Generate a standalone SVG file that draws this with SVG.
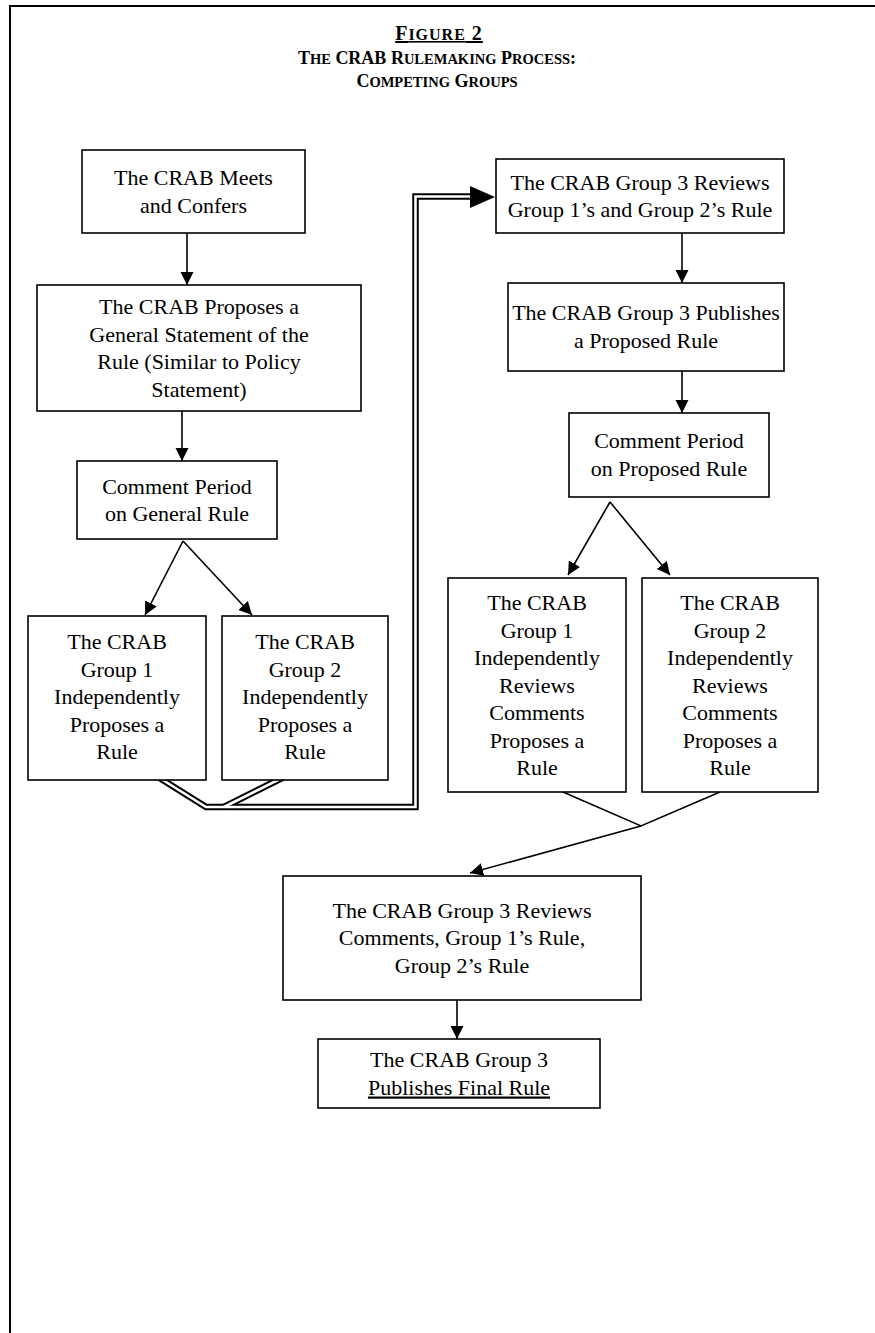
<svg xmlns="http://www.w3.org/2000/svg" width="875" height="1333" viewBox="0 0 875 1333">
<style>
  .box { fill: #fff; stroke: #000; stroke-width: 1.6; }
  .lbl { font-family: "Liberation Serif", "Times New Roman", serif; font-size: 22px; fill: #000; text-anchor: middle; }
  .ttl { font-family: "Liberation Serif", "Times New Roman", serif; font-weight: bold; fill: #000; text-anchor: middle; }
  .big { font-size: 18px; }
  .sm { font-size: 14.5px; }
  .ln { fill: none; stroke: #000; stroke-width: 1.6; }
  .dbl-b { fill: none; stroke: #000; stroke-width: 6.5; stroke-linejoin: miter; }
  .dbl-w { fill: none; stroke: #fff; stroke-width: 2.6; stroke-linejoin: miter; }
</style>
<defs>
  <marker id="ah" viewBox="0 0 13 14" refX="13" refY="7" markerWidth="13" markerHeight="14" markerUnits="userSpaceOnUse" orient="auto">
    <path d="M0,0.5 L13,7 L0,13.5 z" fill="#000"/>
  </marker>
</defs>
<rect x="0" y="0" width="875" height="1333" fill="#fff"/>
<path d="M10,1333 V6 H875" fill="none" stroke="#000" stroke-width="2"/>

<g id="title">
  <text class="ttl" x="439" y="40" text-decoration="underline" letter-spacing="1"><tspan style="font-size:20px">F</tspan><tspan style="font-size:16px">IGURE</tspan><tspan style="font-size:20px"> 2</tspan></text>
  <text class="ttl" x="437" y="64"><tspan class="big">T</tspan><tspan class="sm">HE</tspan><tspan class="big"> CRAB R</tspan><tspan class="sm">ULEMAKING</tspan><tspan class="big"> P</tspan><tspan class="sm">ROCESS</tspan><tspan class="big">:</tspan></text>
  <text class="ttl" x="437" y="87"><tspan class="big">C</tspan><tspan class="sm">OMPETING</tspan><tspan class="big"> G</tspan><tspan class="sm">ROUPS</tspan></text>
</g>

<g id="connectors">
  <line class="ln" x1="187" y1="233" x2="187" y2="285" marker-end="url(#ah)"/>
  <line class="ln" x1="182" y1="411" x2="182" y2="461" marker-end="url(#ah)"/>
  <line class="ln" x1="183" y1="541" x2="145" y2="615" marker-end="url(#ah)"/>
  <line class="ln" x1="183" y1="541" x2="252" y2="615" marker-end="url(#ah)"/>
  <path class="dbl-b" d="M142,767 L206,807 H415.5 V196.5 H472"/>
  <path class="dbl-b" d="M302,768 L224,807"/>
  <path class="dbl-w" d="M142,767 L206,807 H415.5 V196.5 H472"/>
  <path class="dbl-w" d="M302,768 L224,807"/>
  <polygon points="470,186 495,197 470,208" fill="#000"/>
  <line class="ln" x1="682" y1="233" x2="682" y2="283" marker-end="url(#ah)"/>
  <line class="ln" x1="682" y1="371" x2="682" y2="413" marker-end="url(#ah)"/>
  <line class="ln" x1="610" y1="502" x2="568" y2="575" marker-end="url(#ah)"/>
  <line class="ln" x1="610" y1="502" x2="670" y2="575" marker-end="url(#ah)"/>
  <polyline class="ln" points="563,792 641,826 720,792"/>
  <line class="ln" x1="641" y1="826" x2="470" y2="873" marker-end="url(#ah)"/>
  <line class="ln" x1="457" y1="1000" x2="457" y2="1039" marker-end="url(#ah)"/>
</g>

<g id="n1">
  <rect class="box" x="82" y="150" width="223" height="83"/>
  <text class="lbl" x="193.5" y="185">The CRAB Meets</text>
  <text class="lbl" x="193.5" y="212.5">and Confers</text>
</g>
<g id="n2">
  <rect class="box" x="37" y="285" width="324" height="126"/>
  <text class="lbl" x="199" y="314">The CRAB Proposes a</text>
  <text class="lbl" x="199" y="341.5">General Statement of the</text>
  <text class="lbl" x="199" y="369">Rule (Similar to Policy</text>
  <text class="lbl" x="199" y="396.5">Statement)</text>
</g>
<g id="n3">
  <rect class="box" x="77" y="461" width="200" height="78"/>
  <text class="lbl" x="177" y="493.5">Comment Period</text>
  <text class="lbl" x="177" y="521">on General Rule</text>
</g>
<g id="n4">
  <rect class="box" x="28" y="616" width="178" height="164"/>
  <text class="lbl" x="117" y="649">The CRAB</text>
  <text class="lbl" x="117" y="676.5">Group 1</text>
  <text class="lbl" x="117" y="704">Independently</text>
  <text class="lbl" x="117" y="731.5">Proposes a</text>
  <text class="lbl" x="117" y="759">Rule</text>
</g>
<g id="n5">
  <rect class="box" x="222" y="616" width="166" height="164"/>
  <text class="lbl" x="305" y="649">The CRAB</text>
  <text class="lbl" x="305" y="676.5">Group 2</text>
  <text class="lbl" x="305" y="704">Independently</text>
  <text class="lbl" x="305" y="731.5">Proposes a</text>
  <text class="lbl" x="305" y="759">Rule</text>
</g>
<g id="n6">
  <rect class="box" x="496" y="159" width="288" height="74"/>
  <text class="lbl" x="640" y="189.5">The CRAB Group 3 Reviews</text>
  <text class="lbl" x="640" y="217">Group 1’s and Group 2’s Rule</text>
</g>
<g id="n7">
  <rect class="box" x="508" y="283" width="276" height="88"/>
  <text class="lbl" x="646" y="320">The CRAB Group 3 Publishes</text>
  <text class="lbl" x="646" y="347.5">a Proposed Rule</text>
</g>
<g id="n8">
  <rect class="box" x="569" y="413" width="200" height="84"/>
  <text class="lbl" x="669" y="448">Comment Period</text>
  <text class="lbl" x="669" y="475.5">on Proposed Rule</text>
</g>
<g id="n9">
  <rect class="box" x="448" y="578" width="178" height="214"/>
  <text class="lbl" x="537" y="610">The CRAB</text>
  <text class="lbl" x="537" y="637.5">Group 1</text>
  <text class="lbl" x="537" y="665">Independently</text>
  <text class="lbl" x="537" y="692.5">Reviews</text>
  <text class="lbl" x="537" y="720">Comments</text>
  <text class="lbl" x="537" y="747.5">Proposes a</text>
  <text class="lbl" x="537" y="775">Rule</text>
</g>
<g id="n10">
  <rect class="box" x="642" y="578" width="176" height="214"/>
  <text class="lbl" x="730" y="610">The CRAB</text>
  <text class="lbl" x="730" y="637.5">Group 2</text>
  <text class="lbl" x="730" y="665">Independently</text>
  <text class="lbl" x="730" y="692.5">Reviews</text>
  <text class="lbl" x="730" y="720">Comments</text>
  <text class="lbl" x="730" y="747.5">Proposes a</text>
  <text class="lbl" x="730" y="775">Rule</text>
</g>
<g id="n11">
  <rect class="box" x="283" y="876" width="358" height="124"/>
  <text class="lbl" x="462" y="917.5">The CRAB Group 3 Reviews</text>
  <text class="lbl" x="462" y="945">Comments, Group 1’s Rule,</text>
  <text class="lbl" x="462" y="972.5">Group 2’s Rule</text>
</g>
<g id="n12">
  <rect class="box" x="318" y="1039" width="282" height="69"/>
  <text class="lbl" x="459" y="1067">The CRAB Group 3</text>
  <text class="lbl" x="459" y="1094.5" text-decoration="underline">Publishes Final Rule</text>
</g>
</svg>
